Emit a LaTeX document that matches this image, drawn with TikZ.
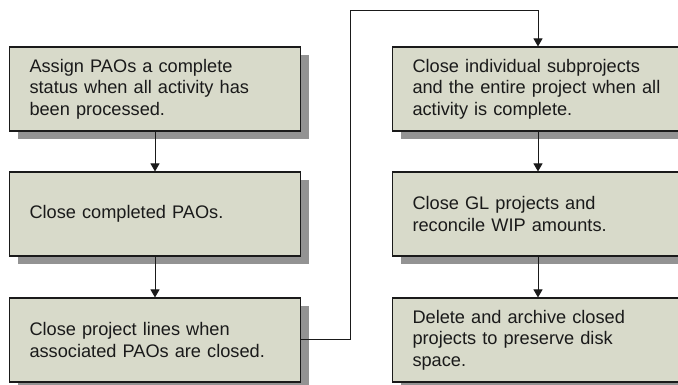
\documentclass[tikz,border=0pt]{standalone}
\usepackage{fontspec}
\setmainfont{Liberation Sans}
\usepackage{tikz}
\usetikzlibrary{arrows.meta,positioning,shadows}
\usepackage{xcolor}
\definecolor{stepfill}{HTML}{D8DACA}
\definecolor{stepshadow}{HTML}{939393}
\definecolor{dark}{HTML}{1A1A1A}
\tikzset{
  stepbox/.style={draw=dark, line width=1.1pt, fill=stepfill, align=left,
    text width=251pt, minimum width=291pt, minimum height=84pt, inner xsep=20pt,
    font=\fontsize{18.2pt}{21.5pt}\selectfont, text=dark,
    drop shadow={shadow xshift=8pt, shadow yshift=-8pt, fill=stepshadow, opacity=1}},
  arrow/.style={-{Triangle[length=8pt,width=9pt]}, line width=1pt, draw=dark}
}

\begin{document}
\begin{tikzpicture}[x=1pt, y=1pt]
  \useasboundingbox (0,0) rectangle (678,385);
  % left column
  \node[stepbox] (assign) at (155,296) {Assign PAOs a complete\\status when all activity has\\been processed.};
  \node[stepbox] (closepao) at (155,171) {Close completed PAOs.};
  \node[stepbox] (lines) at (155,45) {Close project lines when\\associated PAOs are closed.};
  % right column
  \node[stepbox] (subproj) at (538,296) {Close individual subprojects\\and the entire project when all\\activity is complete.};
  \node[stepbox] (glproj) at (538,171) {Close GL projects and\\reconcile WIP amounts.};
  \node[stepbox] (archive) at (538,45) {Delete and archive closed\\projects to preserve disk\\space.};
  \coordinate (bend) at (350,374);
  \draw[arrow] (assign) -- (closepao);
  \draw[arrow] (closepao) -- (lines);
  \draw[arrow] (lines.east) -| (bend) -| (subproj.north);
  \draw[arrow] (subproj) -- (glproj);
  \draw[arrow] (glproj) -- (archive);
\end{tikzpicture}
\end{document}
